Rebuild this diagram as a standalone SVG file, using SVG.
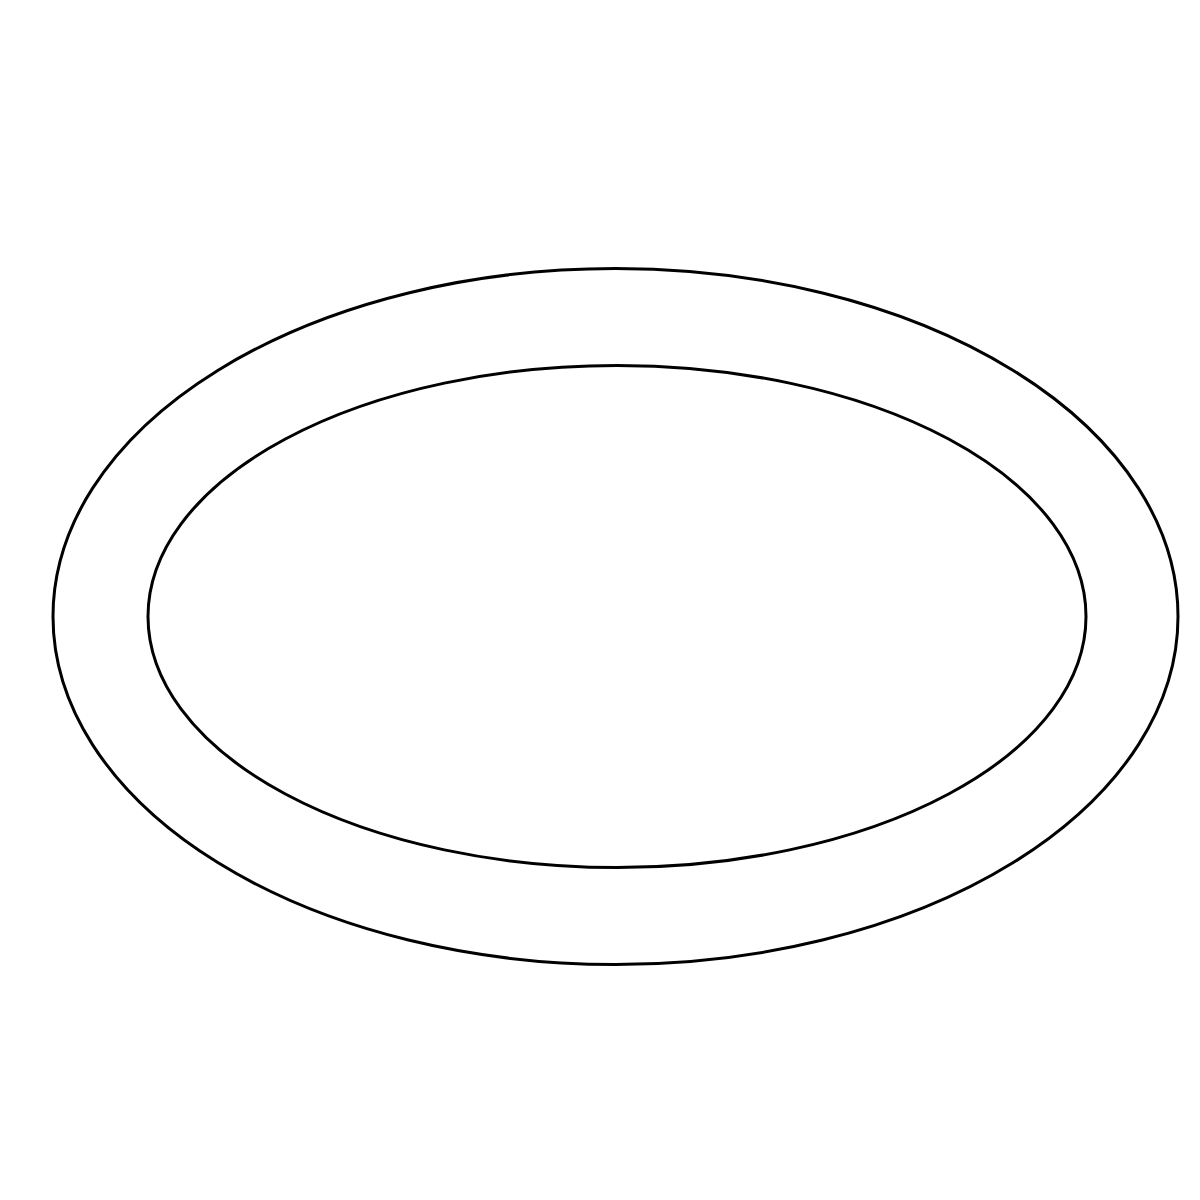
<svg xmlns="http://www.w3.org/2000/svg" width="1200" height="1200" viewBox="0 0 1200 1200">
<style>.ring{fill:none;stroke:#000;stroke-width:3}</style>
<rect width="1200" height="1200" fill="#fff"/>
<g id="outer"><ellipse class="ring" cx="615.5" cy="616.5" rx="562.5" ry="348"/></g>
<g id="inner"><ellipse class="ring" cx="617" cy="616.5" rx="469" ry="251"/></g>
</svg>
